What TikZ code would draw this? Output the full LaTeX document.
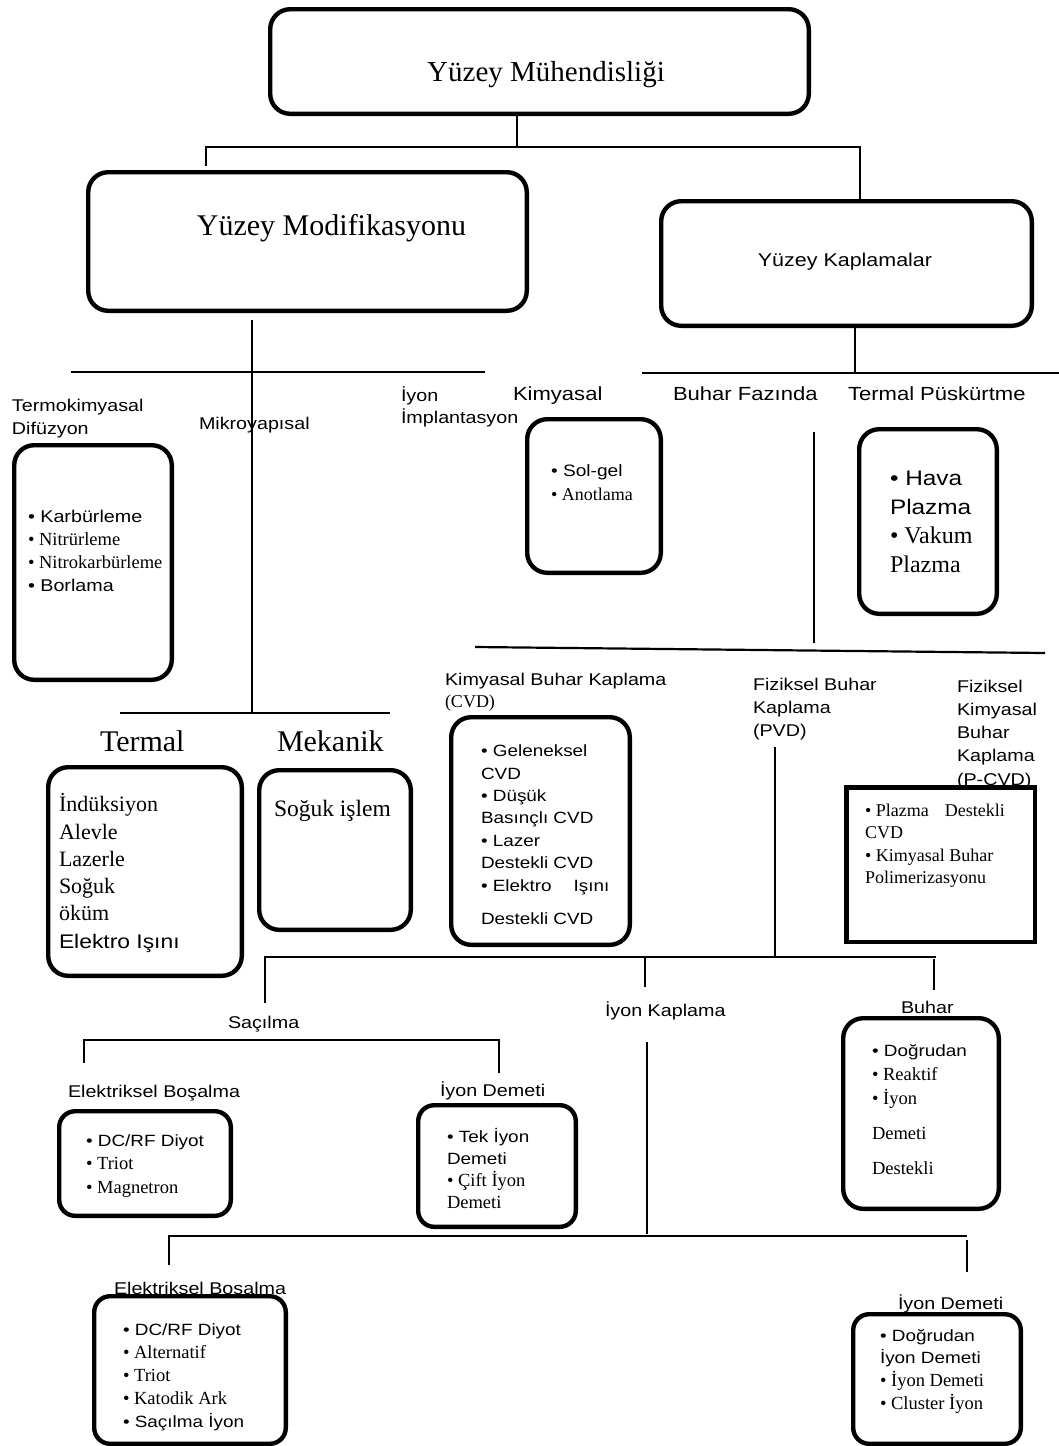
\documentclass[tikz,border=0pt]{standalone}
\usepackage{fontspec}
\setmainfont{Liberation Serif}
\setsansfont[FakeStretch=1.16]{Liberation Sans}
\newcommand\fsz[2]{\fontsize{#1}{#2}\selectfont}
\newcommand\SFx[2]{{\sffamily\fontsize{#1}{#1}\selectfont #2}}
\newcommand\RMx[2]{{\rmfamily\fontsize{#1}{#1}\selectfont #2}}
\newcommand\fstrut{\rule{0pt}{25pt}}
\newcommand\rb[6]{\node[#6, minimum width={#4-#2-4.4}, minimum height={#5-#3-4.4}] (#1) at ({(#2+#4)/2},{(#3+#5)/2}) {};}
\newcommand\tnode[5]{\node[txt,font=#4] (#1) at (#2,{#3-25}) {\fstrut #5};}
\begin{document}
\begin{tikzpicture}[x=1pt,y=-1pt,
 rbox/.style={draw, line width=4.4pt, rounded corners=20pt, inner sep=0pt, outer sep=0pt},
 rboxs/.style={rbox, rounded corners=16pt},
 sqbox/.style={draw, line width=4.6pt, inner sep=0pt, outer sep=0pt},
 wire/.style={line width=2.2pt},
 txt/.style={anchor=north west, inner sep=0pt, outer sep=0pt, align=left},
 ttl/.style={anchor=base, inner sep=0pt},
]
\fill[white] (0,0) rectangle (1059,1446);
\useasboundingbox (0,0) rectangle (1059,1446);

% boxes
\rb{top}{268}{7}{811}{116}{rbox}
\rb{mod}{86}{170}{529}{313}{rbox}
\rb{kap}{659}{199}{1034}{328}{rbox}
\rb{termo}{12}{443}{174}{682}{rbox}
\rb{kim}{525}{417}{663}{575}{rbox}
\rb{tp}{857}{427}{999}{616}{rbox}
\rb{termal}{46}{765}{244}{978}{rbox}
\rb{mek}{257}{768}{413}{932}{rbox}
\rb{cvd}{449}{715}{632}{947}{rbox}
\rb{pcvd}{844}{785}{1037}{944}{sqbox}
\rb{eb1}{57}{1109}{233}{1218}{rboxs}
\rb{id1}{416}{1103}{578}{1229}{rboxs}
\rb{buh}{841}{1016}{1001}{1211}{rbox}
\rb{eb2}{92}{1294}{288}{1446}{rboxs}
\rb{id2}{851}{1312}{1023}{1446}{rboxs}

% titles
\node[ttl, font=\fsz{29}{29}] (top-t) at (546,81.7) {Yüzey Mühendisliği};
\node[ttl, font=\fsz{30}{30}] (mod-t) at (331.5,235) {Yüzey Modifikasyonu};
\node[ttl, font=\sffamily\fsz{18.5}{18.5}] (kap-t) at (845,266.7) {Yüzey Kaplamalar};

% labels
\tnode{termoL}{12}{411.7}{\sffamily\fsz{17}{22.3}}{Termokimyasal\\Difüzyon}
\tnode{mikroL}{199}{429.2}{\sffamily\fsz{17}{22}}{Mikroyapısal}
\tnode{iyonL}{401}{401.7}{\sffamily\fsz{17}{21.7}}{İyon\\İmplantasyon}
\tnode{kimL}{513}{400}{\sffamily\fsz{19}{22}}{Kimyasal}
\tnode{bfL}{673}{400}{\sffamily\fsz{19}{22}}{Buhar Fazında}
\tnode{tpL}{848}{400}{\sffamily\fsz{19}{22}}{Termal Püskürtme}
\tnode{cvdL}{445}{685.2}{\sffamily\fsz{17}{22}}{Kimyasal Buhar Kaplama\\\RMx{18}{(CVD)}}
\tnode{pvdL}{753}{690.2}{\sffamily\fsz{17}{23.3}}{Fiziksel Buhar\\Kaplama\\(PVD)}
\tnode{pcvdL}{957}{692}{\sffamily\fsz{17}{23.3}}{Fiziksel\\Kimyasal\\Buhar\\Kaplama\\(P-CVD)}
\tnode{termalL}{100}{751.7}{\fsz{30}{30}}{Termal}
\tnode{mekL}{277}{751.7}{\fsz{30}{30}}{Mekanik}
\tnode{saciL}{228}{1028}{\sffamily\fsz{17}{22}}{Saçılma}
\tnode{ikL}{605}{1016}{\sffamily\fsz{17}{22}}{İyon Kaplama}
\tnode{buhL}{901}{1013}{\sffamily\fsz{17}{22}}{Buhar}
\tnode{eb1L}{68}{1097.7}{\sffamily\fsz{17}{22}}{Elektriksel Boşalma}
\tnode{id1L}{440}{1096.7}{\sffamily\fsz{17}{22}}{İyon Demeti}
\tnode{eb2L}{114}{1294}{\sffamily\fsz{17}{22}}{Elektriksel Bosalma}
\tnode{id2L}{898}{1309}{\sffamily\fsz{17}{22}}{İyon Demeti}

% box contents
\tnode{termo-t}{28}{522.7}{\fsz{18.5}{23}}{\SFx{17}{• Karbürleme}\\• Nitrürleme\\• Nitrokarbürleme\\\SFx{17}{• Borlama}}
\tnode{kim-t}{551}{476}{\fsz{18}{24}}{\SFx{16.5}{• Sol-gel}\\• Anotlama}
\tnode{tp-t}{890}{485}{\fsz{24}{29}}{\SFx{21}{• Hava}\\\SFx{21}{Plazma}\\• Vakum\\Plazma}
\tnode{termal-t}{59}{811.7}{\fsz{22}{27.3}}{İndüksiyon\\Alevle\\Lazerle\\Soğuk\\öküm\\\SFx{19.7}{Elektro Işını}}
\tnode{mek-t}{274}{816}{\fsz{23.5}{23.5}}{Soğuk işlem}
\tnode{cvd-t}{481}{756.7}{\sffamily\fsz{16.3}{22.4}}{• Geleneksel\\CVD\\• Düşük\\Basınçlı CVD\\• Lazer\\Destekli CVD\\• Elektro\hspace{22pt}Işını\\[10.8pt]Destekli CVD}
\tnode{pcvd-t}{865}{816.7}{\fsz{18}{22.2}}{• Plazma\hspace{16pt}Destekli\\CVD\\• Kimyasal Buhar\\Polimerizasyonu}
\tnode{eb1-t}{86}{1146.7}{\fsz{18.5}{23.2}}{\SFx{16.3}{• DC/RF Diyot}\\• Triot\\• Magnetron}
\tnode{id1-t}{447}{1142.7}{\fsz{18.5}{21.9}}{\SFx{16.3}{• Tek İyon}\\\SFx{16.3}{Demeti}\\• Çift İyon\\Demeti}
\tnode{buh-t}{872}{1056.7}{\fsz{18.5}{24}}{\SFx{16.3}{• Doğrudan}\\• Reaktif\\• İyon\\[11pt]Demeti\\[11pt]Destekli}
\tnode{eb2-t}{123}{1335}{\fsz{18.5}{23}}{\SFx{16.3}{• DC/RF Diyot}\\• Alternatif\\• Triot\\• Katodik Ark\\\SFx{16.3}{• Saçılma İyon}}
\tnode{id2-t}{880}{1341}{\fsz{18.5}{22.7}}{\SFx{16.3}{• Doğrudan}\\\SFx{16.3}{İyon Demeti}\\• İyon Demeti\\• Cluster İyon}

% connectors
\coordinate (c-top) at (517,147);
\coordinate (c-l) at (206,147);
\coordinate (c-ls) at (206,166);
\coordinate (c-r) at (860,147);
\draw[wire] (top.south -| c-top) -- (c-top);
\draw[wire] (c-ls) -- (c-l) -- (c-r) -- (kap.north -| c-r);

\coordinate (m-s) at (252,320);
\coordinate (m-e) at (252,713);
\draw[wire] (m-s) -- (m-e);
\coordinate (h1a) at (71,372);
\coordinate (h1b) at (485,372);
\draw[wire] (h1a) -- (h1b);
\coordinate (h2a) at (120,713);
\coordinate (h2b) at (390,713);
\draw[wire] (h2a) -- (h2b);

\coordinate (k-e) at (855,373);
\draw[wire] (kap.south -| k-e) -- (k-e);
\coordinate (h3a) at (642,373);
\coordinate (h3b) at (1059,373);
\draw[wire] (h3a) -- (h3b);

\coordinate (v1a) at (814,432);
\coordinate (v1b) at (814,643);
\draw[wire] (v1a) -- (v1b);
\coordinate (h4a) at (475,647);
\coordinate (h4b) at (1045,653);
\draw[wire] (h4a) -- (h4b);

\coordinate (pv-a) at (775,747);
\coordinate (pv-b) at (775,957);
\draw[wire] (pv-a) -- (pv-b);
\coordinate (h5a) at (265,957);
\coordinate (h5b) at (936,957);
\coordinate (h5s) at (265,1003);
\draw[wire] (h5s) -- (h5a) -- (h5b);
\coordinate (ik-a) at (645,957);
\coordinate (ik-b) at (645,987);
\draw[wire] (ik-a) -- (ik-b);
\coordinate (bu-a) at (934,959);
\coordinate (bu-b) at (934,990);
\draw[wire] (bu-a) -- (bu-b);

\coordinate (s-l) at (84,1040);
\coordinate (s-ls) at (84,1063);
\coordinate (s-r) at (499,1040);
\coordinate (s-rs) at (499,1073);
\draw[wire] (s-ls) -- (s-l) -- (s-r) -- (s-rs);

\coordinate (ikv-a) at (647,1042);
\coordinate (ikv-b) at (647,1234);
\draw[wire] (ikv-a) -- (ikv-b);
\coordinate (b-l) at (169,1236);
\coordinate (b-ls) at (169,1265);
\coordinate (b-r) at (967,1236);
\coordinate (b-rs1) at (967,1240);
\coordinate (b-rs2) at (967,1272);
\draw[wire] (b-ls) -- (b-l) -- (b-r);
\draw[wire] (b-rs1) -- (b-rs2);
\end{tikzpicture}
\end{document}
